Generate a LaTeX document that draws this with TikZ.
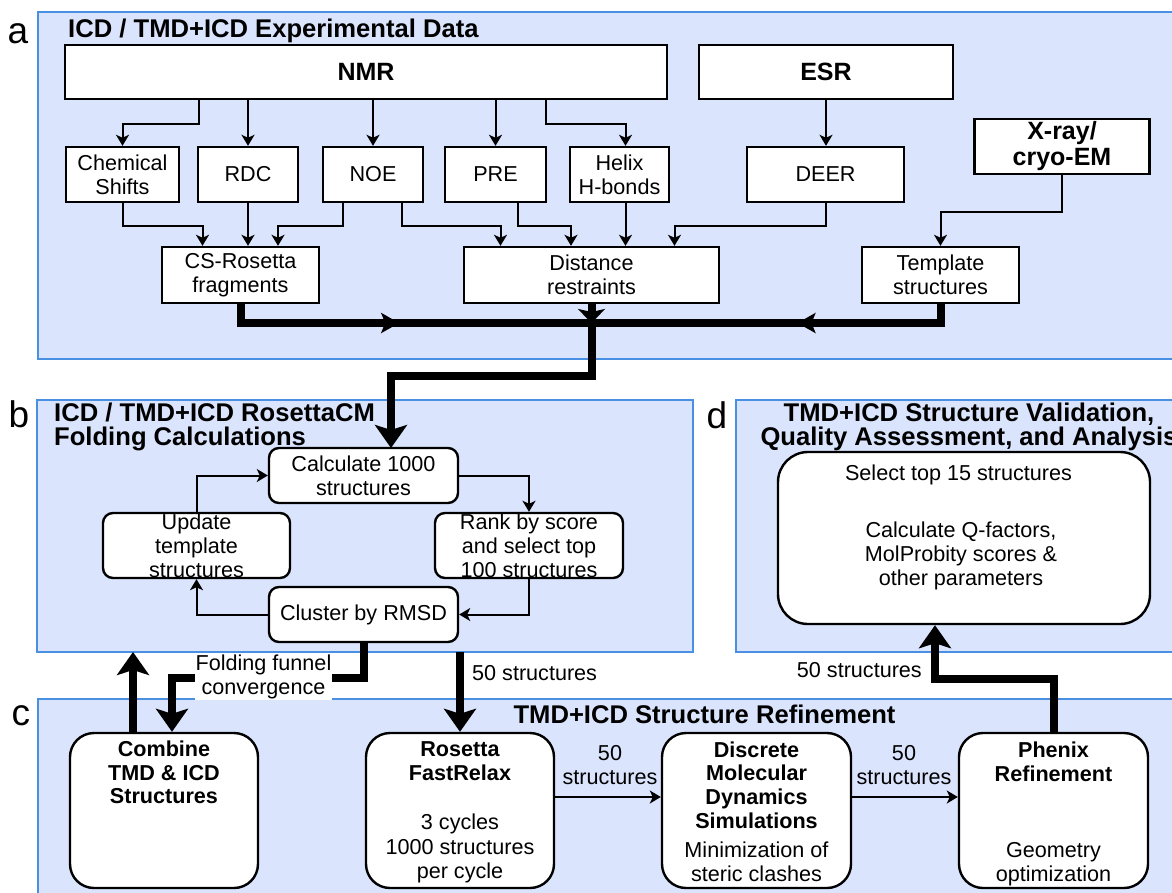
\documentclass[tikz,border=0pt]{standalone}
\usepackage{fontspec}
\setmainfont{Liberation Sans}
\usetikzlibrary{arrows.meta,decorations.markings}
\definecolor{pfill}{RGB}{218,228,252}
\definecolor{pline}{RGB}{74,144,226}
\newcommand\fN{\fontsize{21.6pt}{24pt}\selectfont}
\newcommand\fNB{\fontsize{21.6pt}{23.6pt}\selectfont\bfseries}
\newcommand\fT{\fontsize{25.6pt}{24pt}\selectfont\bfseries}
\newcommand\fH{\fontsize{25pt}{26pt}\selectfont\bfseries}
\newcommand\fL{\fontsize{37pt}{40pt}\selectfont}
\begin{document}
\begin{tikzpicture}[x=1pt,y=-1pt,
  panel/.style={draw=pline, fill=pfill, line width=2pt, inner sep=0pt, outer sep=0pt},
  sq/.style={draw=black, fill=white, line width=2.4pt, inner sep=0pt, align=center, font=\fN},
  rb/.style={sq, rounded corners=10pt},
  rc/.style={sq, rounded corners=24pt},
  txt/.style={inner sep=0pt, align=center, font=\fN},
  btxt/.style={inner sep=0pt, align=center, font=\fNB},
  ttl/.style={inner sep=0pt, font=\fT},
  lbl/.style={inner sep=0pt, font=\fL, anchor=base west},
  arr/.style={line width=2pt, -{Stealth[length=11pt,width=13pt,inset=3pt]}},
  thk/.style={line width=8pt},
  bigarr/.style={thk, -{Stealth[length=23pt,width=32pt,inset=5pt]}},
  midarr/.style={thk, postaction={decorate}, decoration={markings, mark=at position #1 with {\arrow{Stealth[length=18pt,width=20pt,inset=4pt]}}}}
]
\useasboundingbox (0,0) rectangle (1172,892);
\clip (0,0) rectangle (1172,892);

% ---------- panels ----------
\node[panel, minimum width=1142pt, minimum height=347pt] (pa) at (609,185.5) {};
\node[panel, minimum width=656pt, minimum height=252pt] (pb) at (365,526) {};
\node[panel, minimum width=444pt, minimum height=252pt] (pd) at (958,526) {};
\node[panel, minimum width=1142pt, minimum height=201pt] (pc) at (609,799.5) {};

\node[lbl] (la) at (7.5,43) {a};
\node[lbl] (lb) at (8.5,427) {b};
\node[lbl] (lc) at (11.5,725) {c};
\node[lbl] (ld) at (706.5,428) {d};

\node[ttl, anchor=base west] (ta) at (68,37.5) {ICD / TMD+ICD Experimental Data};
\node[ttl, anchor=west, align=left] (tb) at (54,427) {ICD / TMD+ICD RosettaCM\\Folding Calculations};
\node[ttl, anchor=center, align=center] (td) at (969,427) {TMD+ICD Structure Validation,\\Quality Assessment, and Analysis};
\node[ttl, anchor=base] (tc) at (704.5,723) {TMD+ICD Structure Refinement};

% ---------- panel a ----------
\node[sq, font=\fH, minimum width=602pt, minimum height=54pt] (nmr) at (366,72) {NMR};
\node[sq, font=\fH, minimum width=254pt, minimum height=54pt] (esr) at (826,72) {ESR};
\node[sq, minimum width=113pt, minimum height=55pt] (cs) at (122.5,174.5) {Chemical\\Shifts};
\node[sq, minimum width=100pt, minimum height=55pt] (rdc) at (248,174.5) {RDC};
\node[sq, minimum width=100pt, minimum height=55pt] (noe) at (373,174.5) {NOE};
\node[sq, minimum width=101pt, minimum height=55pt] (pre) at (495.5,174.5) {PRE};
\node[sq, minimum width=99pt, minimum height=55pt] (hb) at (619.5,174.5) {Helix\\H-bonds};
\node[sq, minimum width=157pt, minimum height=55pt] (deer) at (825.5,174.5) {DEER};
\node[sq, font=\fH, minimum width=175pt, minimum height=55pt] (xray) at (1062,146.5) {X-ray/\\cryo-EM};
\node[sq, minimum width=157pt, minimum height=56pt] (csr) at (240.5,275) {CS-Rosetta\\fragments};
\node[sq, minimum width=255pt, minimum height=56pt] (dist) at (591.5,275) {Distance\\restraints};
\node[sq, minimum width=157pt, minimum height=56pt] (tmpl) at (940.5,275) {Template\\structures};

\draw[arr] ([xshift=-167pt]nmr.south) -- ++(0,24) -| (cs.north);
\draw[arr] (nmr.south -| rdc.north) -- (rdc.north);
\draw[arr] (nmr.south -| noe.north) -- (noe.north);
\draw[arr] (nmr.south -| pre.north) -- (pre.north);
\draw[arr] ([xshift=180pt]nmr.south) -- ++(0,24) -| ([xshift=6pt]hb.north);
\draw[arr] (esr.south) -- (esr.south |- deer.north);

\draw[arr] (cs.south) -- ++(0,23) -| ([xshift=-38pt]csr.north);
\draw[arr] (rdc.south) -- (rdc.south |- csr.north);
\draw[arr] ([xshift=-30pt]noe.south) -- ++(0,23) -| ([xshift=37.5pt]csr.north);
\draw[arr] ([xshift=29pt]noe.south) -- ++(0,23) -| ([xshift=-91pt]dist.north);
\draw[arr] ([xshift=22.5pt]pre.south) -- ++(0,23) -| ([xshift=-20.5pt]dist.north);
\coordinate (hbx) at ([xshift=6pt]hb.south);
\draw[arr] (hbx) -- (hbx |- dist.north);
\draw[arr] (deer.south) -- ++(0,23) -| ([xshift=83pt]dist.north);
\draw[arr] (xray.south) -- ++(0,37) -| (tmpl.north);

% thick merge
\coordinate (j) at (591.5,323);
\coordinate (t) at (0,376);
\coordinate (cx) at (391,448);
\draw[midarr=0.48] (csr.south) |- (j);
\draw[midarr=0.44] (tmpl.south) |- (j);
\draw[thk, -{Stealth[length=14pt,width=27pt,inset=3pt]}] (dist.south) -- (j);

% ---------- panel b ----------
\node[rb, minimum width=189pt, minimum height=55pt] (calc) at (363.5,475.5) {Calculate 1000\\structures};
\node[rb, minimum width=187pt, minimum height=65pt] (upd) at (196.5,545.5) {Update\\template\\structures};
\node[rb, minimum width=188pt, minimum height=65pt] (rank) at (529,545.5) {Rank by score\\and select top\\100 structures};
\node[rb, minimum width=189pt, minimum height=55pt] (clu) at (363.5,614.5) {Cluster by RMSD};

\draw[bigarr] (j) -- (j |- t) -| (cx);

\draw[arr] (upd.north) |- (calc.west);
\draw[arr] (calc.east) -| (rank.north);
\draw[arr] (rank.south) |- (clu.east);
\draw[arr] (clu.west) -| (upd.south);

% ---------- panel d ----------
\node[sq, rounded corners=30pt, minimum width=372pt, minimum height=172pt] (sel) at (964,538) {};
\node[txt] (selt1) at (958.5,475) {Select top 15 structures};
\node[txt] (selt2) at (961,555.5) {Calculate Q-factors,\\MolProbity scores \&\\other parameters};

% ---------- panel c ----------
\node[rc, minimum width=188pt, minimum height=155pt] (comb) at (164,810.5) {};
\node[btxt] (combt) at (164,772.6) {Combine\\TMD \& ICD\\Structures};
\node[rc, minimum width=188pt, minimum height=155pt] (ros) at (460,810.5) {};
\node[btxt] (rost1) at (460,761) {Rosetta\\FastRelax};
\node[txt] (rost2) at (460,848.4) {3 cycles\\1000 structures\\per cycle};
\node[rc, minimum width=189pt, minimum height=155pt] (dmd) at (756.5,810.5) {};
\node[btxt] (dmdt1) at (756.5,785) {Discrete\\Molecular\\Dynamics\\Simulations};
\node[txt] (dmdt2) at (756.5,862) {Minimization of\\steric clashes};
\node[rc, minimum width=189pt, minimum height=155pt] (phx) at (1053.5,810.5) {};
\node[btxt] (phxt1) at (1053.5,762) {Phenix\\Refinement};
\node[txt] (phxt2) at (1053.5,864.3) {Geometry\\optimization};

\coordinate (yc) at (0,797);
\draw[arr] (ros.east |- yc) -- (dmd.west |- yc);
\draw[arr] (dmd.east |- yc) -- (phx.west |- yc);
\node[txt] (l50a) at (610,764.8) {50\\structures};
\node[txt] (l50b) at (904,764.8) {50\\structures};

% ---------- thick links between panels ----------
\coordinate (yff) at (0,678);
\draw[bigarr] (clu.south) -- (clu.south |- yff) -| ([xshift=8pt]comb.north);
\node[txt, fill=white, inner sep=1pt] (ffc) at (263.5,677) {Folding funnel\\convergence};
\coordinate (cu) at ([xshift=-31pt]comb.north);
\draw[bigarr] (cu) -- (cu |- pb.south);
\draw[bigarr] (pb.south -| ros.north) -- (ros.north);
\node[txt, anchor=west] (l50c) at (472,673) {50 structures};

\coordinate (yd) at (0,679);
\coordinate (sx) at ([xshift=-29pt]sel.south);
\draw[bigarr] (phx.north) -- (phx.north |- yd) -| (sx);
\node[txt, anchor=east] (l50d) at (922,670) {50 structures};
\end{tikzpicture}
\end{document}
